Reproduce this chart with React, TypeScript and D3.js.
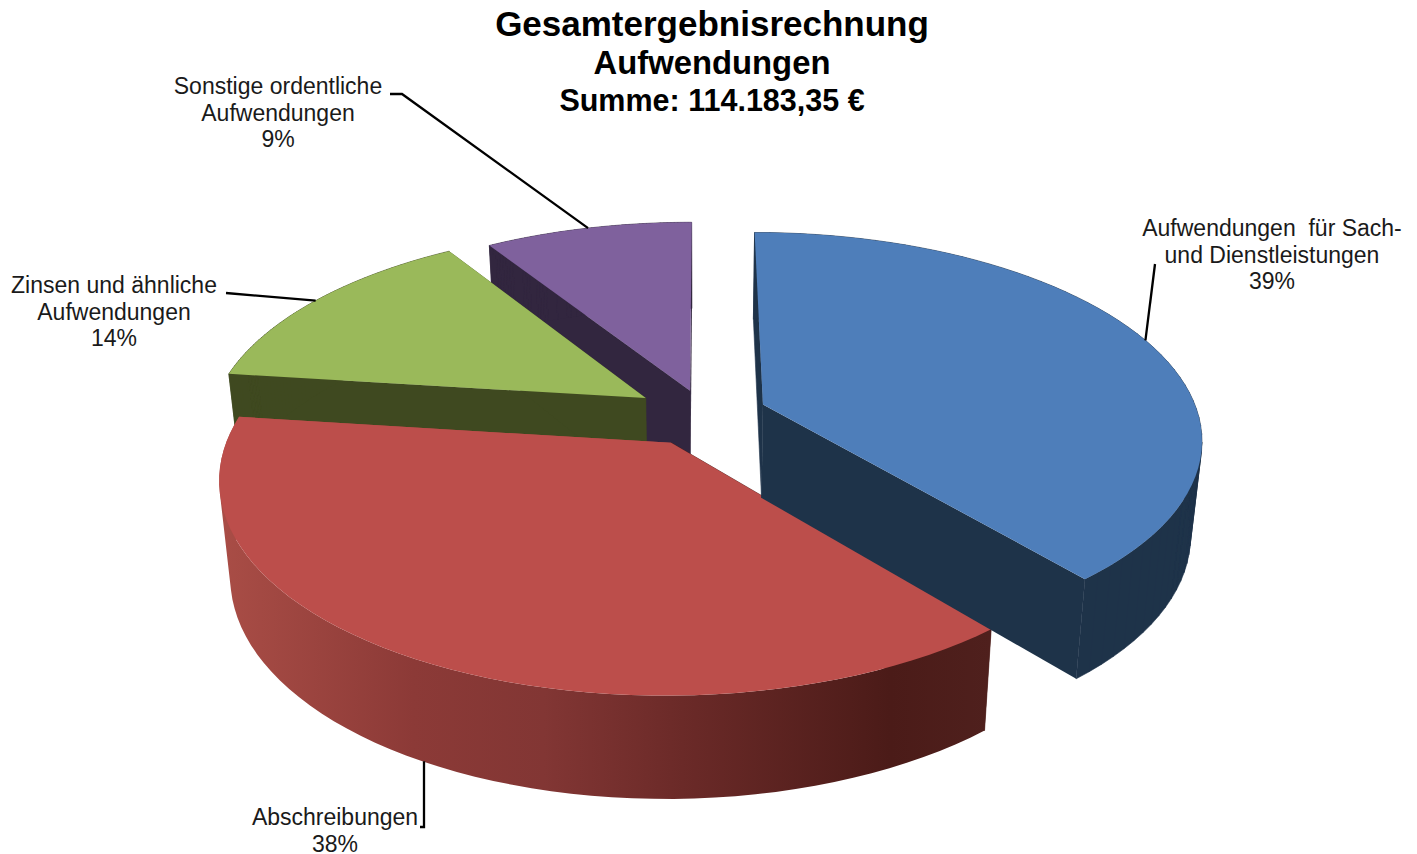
import * as d3 from "d3";

const categories = [
  "Aufwendungen für Sach- und Dienstleistungen",
  "Abschreibungen",
  "Zinsen und ähnliche Aufwendungen",
  "Sonstige ordentliche Aufwendungen",
];
const shares = [39, 38, 14, 9];
const explodeX = [0.15, 0.144, 0.155, 0.1];
const explodeY = [0.178, 0.145, 0.172, 0.135];
const topColors = ["#4E7EBA", "#BC4E4B", "#9AB95A", "#7F619D"];
const wallColors = ["#1E3349", "url(#redWall)", "#3F4920", "#32263F"];

const titleLines = ["Gesamtergebnisrechnung", "Aufwendungen", "Summe: 114.183,35 €"];
const titleSizes = [35, 32.8, 30.5];
const titleY = [36, 74, 111];

const labelLines = [
  ["Aufwendungen  für Sach-", "und Dienstleistungen", "39%"],
  ["Abschreibungen", "38%"],
  ["Zinsen und ähnliche", "Aufwendungen", "14%"],
  ["Sonstige ordentliche", "Aufwendungen", "9%"],
];
const labelCenterX = [1272, 335, 114, 278];
const labelTopY = [236, 825, 293, 94];
const leaderBend: [number, number][][] = [
  [[1155, 264]],
  [[424, 827], [420, 827]],
  [[226, 293]],
  [[402, 94], [390, 94]],
];

// pie geometry, projected with a simple perspective
const W = 1417;
const H = 854;
const CX = 702;
const CY = 416.5;
const RX = 436;
const RY = 203;
const PERSP = 0.16;
const DEPTH = 94;
const DEPTH_PERSP = 0.08;
const SHRINK = 0.023;

const project = (a: number, b: number, h: number): [number, number] => {
  const w = 1 - PERSP * b;
  return [
    CX + ((RX * a) / w) * (1 - SHRINK * h),
    CY + (RY * b) / w + (DEPTH * h) / (1 - DEPTH_PERSP * b),
  ];
};

const line = d3.line();

const pie = d3
  .pie<number>()
  .sort(null)
  .value((d) => d);

export default function App() {
  const arcs = pie(shares);

  const slices = arcs.map((arc, i) => {
    const mid = (arc.startAngle + arc.endAngle) / 2;
    const ox = explodeX[i] * Math.sin(mid);
    const oy = -explodeY[i] * Math.cos(mid);
    const steps = d3.range(0, 61).map((k) => arc.startAngle + ((arc.endAngle - arc.startAngle) * k) / 60);
    const rim = (h: number) => steps.map((t) => project(ox + Math.sin(t), oy - Math.cos(t), h));
    const apex = (h: number) => project(ox, oy, h);

    const rimTop = rim(0);
    const rimBottom = rim(1);
    const top = line([apex(0), ...rimTop]) + "Z";

    // one quad per step, all wound the same way so the nonzero fill gives their union
    const outerWall = d3
      .range(0, 60)
      .map((k) => {
        const quad = [rimTop[k], rimTop[k + 1], rimBottom[k + 1], rimBottom[k]];
        if (d3.polygonArea(quad) < 0) quad.reverse();
        return line(quad) + "Z";
      })
      .join("");
    const startWall = line([apex(0), rimTop[0], rimBottom[0], apex(1)]) + "Z";
    const endWall = line([apex(0), rimTop[60], rimBottom[60], apex(1)]) + "Z";

    // leader starts on the rim at the middle of the slice, Abschreibungen drops straight from the wall foot
    const anchor = project(ox + Math.sin(mid), oy - Math.cos(mid), i === 1 ? 1 : 0);
    if (i === 1) anchor[0] = leaderBend[1][0][0];
    const leader = line([anchor, ...leaderBend[i]]);

    return { i, top, outerWall, startWall, endWall, leader };
  });

  // painter's order: back slices first, blue wall last over the red top edge
  const order = [3, 2, 1, 0];

  return (
    <svg
      width={W}
      height={H}
      style={{ position: "absolute", left: 0, top: 0, display: "block", background: "#fff" }}
      fontFamily="'Liberation Sans', Arial, sans-serif"
    >
      <defs>
        <linearGradient id="redWall" gradientUnits="userSpaceOnUse" x1={221} x2={990} y1={0} y2={0}>
          <stop offset="0" stopColor="#A94D46" />
          <stop offset="0.25" stopColor="#8C3A37" />
          <stop offset="0.42" stopColor="#823634" />
          <stop offset="0.6" stopColor="#6B2A28" />
          <stop offset="0.87" stopColor="#4B1B18" />
          <stop offset="1" stopColor="#4F201D" />
        </linearGradient>
      </defs>

      {order.map((idx) => {
        const s = slices[idx];
        const flat = idx === 1 ? "#4F201D" : wallColors[idx];
        return (
          <g key={idx}>
            <path d={s.startWall} fill={flat} stroke={flat} strokeWidth={0.6} />
            <path d={s.endWall} fill={idx === 1 ? "#A94D46" : flat} />
            <path d={s.outerWall} fill={wallColors[idx]} stroke={idx === 1 ? "none" : flat} strokeWidth={0.6} />
            <path d={s.top} fill={topColors[idx]} />
          </g>
        );
      })}

      {slices.map((s) => (
        <path key={s.i} d={s.leader ?? ""} fill="none" stroke="#000" strokeWidth={2.3} />
      ))}

      {titleLines.map((t, i) => (
        <text key={t} x={712} y={titleY[i]} textAnchor="middle" fontWeight="bold" fontSize={titleSizes[i]} fill="#000">
          {t}
        </text>
      ))}

      {labelLines.map((lines, i) => (
        <text key={categories[i]} fontSize={23} fill="#1a1a1a" textAnchor="middle" style={{ whiteSpace: "pre" }}>
          {lines.map((l, k) => (
            <tspan key={k} x={labelCenterX[i]} y={labelTopY[i] + k * 26.7}>
              {l}
            </tspan>
          ))}
        </text>
      ))}
    </svg>
  );
}
